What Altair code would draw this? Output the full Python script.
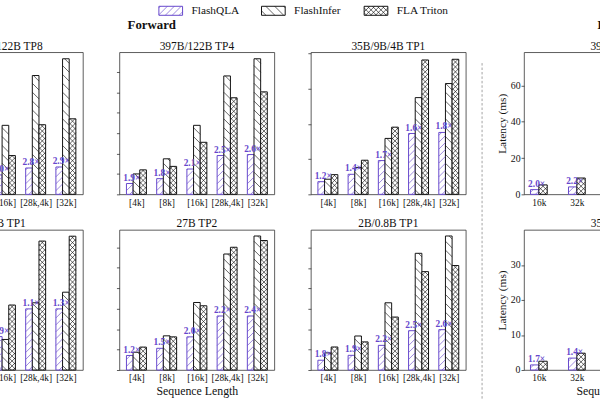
import json
import numpy as np
import pandas as pd
import altair as alt

FONT = "Liberation Serif"
PURPLE = "#6647cc"
INK = "#111111"

# ---------------- data ----------------
series_names = ["FlashQLA", "FlashInfer", "FLA Triton"]
bwd_series = ["FlashQLA", "FLA Triton"]
seq_fwd = ["[4k]", "[8k]", "[16k]", "[28k,4k]", "[32k]"]
seq_bwd = ["16k", "32k"]

fwd_titles_top = ["397B/122B TP8", "397B/122B TP4", "35B/9B/4B TP1"]
fwd_titles_bottom = ["27B TP1", "27B TP2", "2B/0.8B TP1"]
bwd_titles = ["397B/122B", "35B/9B/4B"]

# forward latency (relative units, y ticks hidden)
tp8_qla = [None, None, 0.95, 1.29, 1.34]
tp8_fi = [None, None, 3.38, 5.82, 6.64]
tp8_fla = [None, None, 1.90, 3.41, 3.70]
tp8_speedup = [None, None, 2.0, 2.8, 2.9]

tp4_qla = [0.53, 0.77, 1.24, 1.90, 1.95]
tp4_fi = [1.00, 1.74, 3.38, 5.80, 6.64]
tp4_fla = [1.20, 1.37, 2.55, 4.73, 5.02]
tp4_speedup = [1.9, 1.8, 2.1, 2.5, 2.6]

tp1a_qla = [0.36, 0.57, 0.96, 1.73, 1.76]
tp1a_fi = [0.43, 0.76, 1.59, 2.75, 3.15]
tp1a_fla = [0.56, 0.97, 1.91, 3.82, 3.84]
tp1a_speedup = [1.2, 1.4, 1.7, 1.6, 1.8]

b27tp1_qla = [None, None, 1.64, 3.00, 3.00]
b27tp1_fi = [None, None, 1.50, 3.30, 3.82]
b27tp1_fla = [None, None, 3.19, 6.33, 6.57]
b27tp1_speedup = [None, None, 0.9, 1.1, 1.3]

tp2_qla = [0.71, 1.06, 1.62, 2.64, 2.64]
tp2_fi = [0.87, 1.67, 3.30, 5.67, 6.55]
tp2_fla = [1.12, 1.62, 3.14, 6.00, 6.33]
tp2_speedup = [1.2, 1.5, 2.0, 2.2, 2.4]

tp1b_qla = [0.48, 0.72, 1.21, 1.93, 1.98]
tp1b_fi = [0.84, 1.67, 3.30, 5.73, 6.58]
tp1b_fla = [1.13, 1.38, 2.60, 4.83, 5.13]
tp1b_speedup = [1.8, 1.9, 2.2, 2.5, 2.6]

# backward latency (ms)
bw1_qla = [2.6, 4.1]
bw1_fla = [5.2, 9.0]
bw1_speedup = [2.0, 2.2]
bw2_qla = [1.45, 3.4]
bw2_fla = [2.5, 4.8]
bw2_speedup = [1.7, 1.4]

# ---------------- layout / style ----------------
FW_W = 157
ROW_H = [144, 142]
BW_W = 188
FWD_XDOM = [-0.563, 4.563]
BWD_XDOM = [-0.39, 4.49]
BAR = 0.22
FWD_CENTERS = [-0.22, 0.0, 0.22]
BWD_CENTERS = [-0.11, 0.11]
HATCH = {"FlashQLA": [("/", 7.0)], "FlashInfer": [("\\", 9.0)],
         "FLA Triton": [("/", 5.0), ("\\", 5.0)]}
COLOR = alt.Scale(domain=series_names, range=[PURPLE, INK, INK])


def hatch_lines(x0, x1, yb, yt, kx, ky, kind, gap):
    w = (x1 - x0) * kx
    h = (yt - yb) * ky
    out = []
    if kind == "/":
        for c in np.arange(-w + gap * 0.5, h, gap):
            us, ue = max(0.0, -c), min(w, h - c)
            if ue - us > 0.3:
                out.append((x0 + us / kx, yb + (us + c) / ky, x0 + ue / kx, yb + (ue + c) / ky))
    else:
        for c in np.arange(gap * 0.5, h + w, gap):
            us, ue = max(0.0, c - h), min(w, c)
            if ue - us > 0.3:
                out.append((x0 + us / kx, yb + (c - us) / ky, x0 + ue / kx, yb + (c - ue) / ky))
    return out


def panel(title, cats, series, vals, speed, ymax, yticks, width, height, xdom,
          centers, ylabels=False, ytitle=None, xtitle=None):
    kx = width / (xdom[1] - xdom[0])
    ky = height / ymax
    bars, lines, labs = [], [], []
    for s, vs, off in zip(series, vals, centers):
        for g, v in enumerate(vs):
            if v is None:
                continue
            a = g + off - BAR / 2
            b = a + BAR
            bars.append({"series": s, "x0": a, "x1": b, "y0": 0.0, "y1": v})
            for kind, gap in HATCH[s]:
                for (p, q, r, t) in hatch_lines(a, b, 0.0, v, kx, ky, kind, gap):
                    lines.append({"series": s, "x0": p, "y0": q, "x1": r, "y1": t})
    for g, (v, sp) in enumerate(zip(vals[0], speed)):
        if v is None or sp is None:
            continue
        labs.append({"x0": g + centers[0], "y0": v, "text": f"{sp:.1f}×"})

    xs = alt.Scale(domain=xdom, nice=False, zero=False)
    ys = alt.Scale(domain=[0, ymax], nice=False, zero=True)
    labexpr = "[" + ",".join(json.dumps(c) for c in cats) + "][datum.value]"
    xaxis = alt.Axis(values=list(range(len(cats))), labelExpr=labexpr, ticks=False,
                     grid=False, domain=False, labelFontSize=9.5, labelPadding=3,
                     title=xtitle, titleFontSize=12, titlePadding=3,
                     labelOverlap=False, labelFlush=False, labelFont=FONT)
    yaxis = alt.Axis(values=yticks, labels=ylabels, ticks=True, tickSize=3,
                     grid=False, domain=False, title=ytitle, labelFontSize=10,
                     labelPadding=1, titleFontSize=11.5, titlePadding=3,
                     labelOverlap=False, labelFont=FONT)

    c_bars = alt.Chart(pd.DataFrame(bars)).mark_rect(fill="white", strokeWidth=1.0).encode(
        x=alt.X("x0:Q", scale=xs, axis=xaxis), x2=alt.X2("x1:Q"),
        y=alt.Y("y0:Q", scale=ys, axis=yaxis), y2=alt.Y2("y1:Q"),
        stroke=alt.Stroke("series:N", scale=COLOR, legend=None))
    c_lines = alt.Chart(pd.DataFrame(lines)).mark_rule(strokeWidth=0.65).encode(
        x=alt.X("x0:Q", scale=xs, axis=xaxis), x2=alt.X2("x1:Q"),
        y=alt.Y("y0:Q", scale=ys, axis=yaxis), y2=alt.Y2("y1:Q"),
        color=alt.Color("series:N", scale=COLOR, legend=None))
    c_labs = alt.Chart(pd.DataFrame(labs)).mark_text(
        font=FONT, fontSize=9.5, fontWeight="bold", color=PURPLE,
        baseline="bottom", dy=-1, dx=2).encode(
        x=alt.X("x0:Q", scale=xs, axis=xaxis),
        y=alt.Y("y0:Q", scale=ys, axis=yaxis), text="text:N")
    return alt.layer(c_bars, c_lines, c_labs).properties(
        width=width, height=height,
        title=alt.TitleParams(title, font=FONT, fontSize=11.6, fontWeight="normal",
                              offset=0, anchor="middle", color=INK))


fwd_panels = [
    panel(fwd_titles_top[0], seq_fwd, series_names, [tp8_qla, tp8_fi, tp8_fla], tp8_speedup,
          6.96, [0, 1, 2, 3, 4, 5, 6], FW_W, ROW_H[0], FWD_XDOM, FWD_CENTERS),
    panel(fwd_titles_top[1], seq_fwd, series_names, [tp4_qla, tp4_fi, tp4_fla], tp4_speedup,
          6.96, [0, 1, 2, 3, 4, 5, 6], FW_W, ROW_H[0], FWD_XDOM, FWD_CENTERS),
    panel(fwd_titles_top[2], seq_fwd, series_names, [tp1a_qla, tp1a_fi, tp1a_fla], tp1a_speedup,
          4.04, [0, 1, 2, 3, 4], FW_W, ROW_H[0], FWD_XDOM, FWD_CENTERS),
    panel(fwd_titles_bottom[0], seq_fwd, series_names, [b27tp1_qla, b27tp1_fi, b27tp1_fla], b27tp1_speedup,
          6.88, [0, 1, 2, 3, 4, 5, 6], FW_W, ROW_H[1], FWD_XDOM, FWD_CENTERS),
    panel(fwd_titles_bottom[1], seq_fwd, series_names, [tp2_qla, tp2_fi, tp2_fla], tp2_speedup,
          6.85, [0, 1, 2, 3, 4, 5, 6], FW_W, ROW_H[1], FWD_XDOM, FWD_CENTERS,
          xtitle="Sequence Length"),
    panel(fwd_titles_bottom[2], seq_fwd, series_names, [tp1b_qla, tp1b_fi, tp1b_fla], tp1b_speedup,
          6.88, [0, 1, 2, 3, 4, 5, 6], FW_W, ROW_H[1], FWD_XDOM, FWD_CENTERS),
]

fwd = alt.concat(*fwd_panels, columns=3, spacing={"row": 36, "column": 37},
                 bounds="flush").resolve_scale(x="independent", y="independent").properties(
    title=alt.TitleParams("Forward", font=FONT, fontSize=13, fontWeight="bold",
                          anchor="middle", dx=-44, offset=9, color=INK))

bwd_panels = [
    panel(bwd_titles[0], seq_bwd, bwd_series, [bw1_qla, bw1_fla], bw1_speedup,
          78.3, [0, 20, 40, 60], BW_W, ROW_H[0], BWD_XDOM, BWD_CENTERS,
          ylabels=True, ytitle="Latency (ms)"),
    panel(bwd_titles[1], seq_bwd, bwd_series, [bw2_qla, bw2_fla], bw2_speedup,
          40.0, [0, 10, 20, 30], BW_W, ROW_H[1], BWD_XDOM, BWD_CENTERS,
          ylabels=True, ytitle="Latency (ms)", xtitle="Sequence Length"),
]
bwd = alt.vconcat(*bwd_panels, spacing=36, bounds="flush").resolve_scale(
    x="independent", y="independent").properties(
    title=alt.TitleParams("Backward", font=FONT, fontSize=13, fontWeight="bold",
                          anchor="middle", dx=23, offset=9, color=INK))

divider = alt.Chart(pd.DataFrame({"a": [0]})).mark_rule(
    color="#8a8a8a", strokeDash=[2.5, 2], strokeWidth=0.8).encode(
    x=alt.value(2), y=alt.value(11), y2=alt.value(390)).properties(
    width=1, height=360, view=alt.ViewBackground(stroke="transparent"))

# legend row
LEG_W = 640
LEG_K = 104.0
LEG_D0 = -2.25
leg_xdom = [LEG_D0, LEG_D0 + LEG_W / LEG_K]
sw_w = 24 / LEG_K
leg_rects, leg_lines, leg_text = [], [], []
for i, s in enumerate(series_names):
    leg_rects.append({"series": s, "x0": i, "x1": i + sw_w, "y0": 0.12, "y1": 0.88})
    for kind, gap in HATCH[s]:
        for (p, q, r, t) in hatch_lines(i, i + sw_w, 0.12, 0.88, LEG_K, 12.0, kind, gap):
            leg_lines.append({"series": s, "x0": p, "y0": q, "x1": r, "y1": t})
    leg_text.append({"series": s, "x0": i + 33 / LEG_K, "y0": 0.5})
lxs = alt.Scale(domain=leg_xdom, nice=False, zero=False)
lys = alt.Scale(domain=[0, 1], nice=False)
leg_a = alt.Chart(pd.DataFrame(leg_rects)).mark_rect(fill="white", strokeWidth=1.0).encode(
    x=alt.X("x0:Q", scale=lxs, axis=None), x2="x1:Q",
    y=alt.Y("y0:Q", scale=lys, axis=None), y2="y1:Q",
    stroke=alt.Stroke("series:N", scale=COLOR, legend=None))
leg_b = alt.Chart(pd.DataFrame(leg_lines)).mark_rule(strokeWidth=0.65).encode(
    x=alt.X("x0:Q", scale=lxs, axis=None), x2="x1:Q",
    y=alt.Y("y0:Q", scale=lys, axis=None), y2="y1:Q",
    color=alt.Color("series:N", scale=COLOR, legend=None))
leg_c = alt.Chart(pd.DataFrame(leg_text)).mark_text(
    font=FONT, fontSize=11.5, align="left", baseline="middle", color=INK).encode(
    x=alt.X("x0:Q", scale=lxs, axis=None), y=alt.Y("y0:Q", scale=lys, axis=None),
    text="series:N")
legend = alt.layer(leg_a, leg_b, leg_c).properties(
    width=LEG_W, height=12, view=alt.ViewBackground(stroke="transparent"))

main = alt.hconcat(fwd, divider, bwd, spacing=12.5)

chart = alt.vconcat(legend, main, spacing=1).properties(
    padding={"left": -77, "top": 1, "right": -112, "bottom": 0}
).configure_view(stroke="#333333", strokeWidth=0.8).configure_axis(
    labelFont=FONT, titleFont=FONT, labelColor=INK, titleColor=INK,
    tickColor="#333333", tickWidth=0.8, titleFontWeight="normal", labelOverlap=False
).configure_title(font=FONT, color=INK).configure_text(font=FONT)

chart.save("out.html", embed_options={"renderer": "svg", "actions": False})
